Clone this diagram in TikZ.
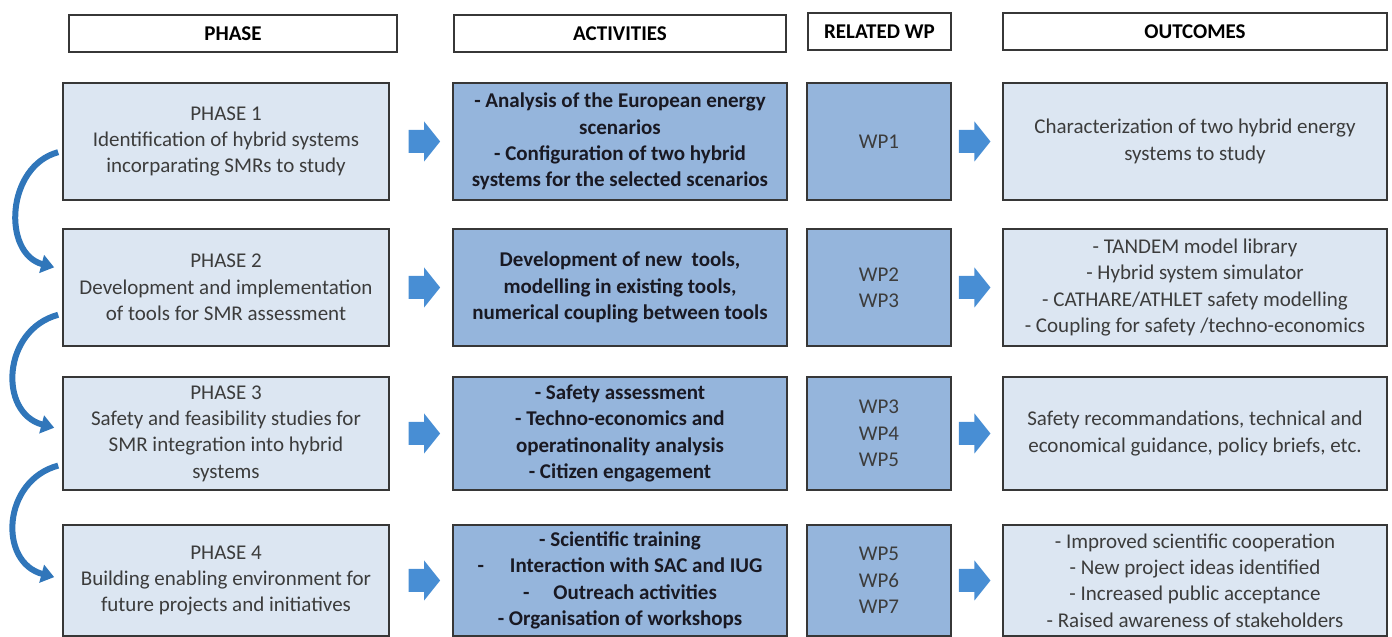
\documentclass[tikz,border=0pt]{standalone}
\usepackage{fontspec}
\setmainfont{Carlito}
\usetikzlibrary{arrows.meta,calc}
\definecolor{LightClr}{RGB}{220,230,242}
\definecolor{WorkClr}{RGB}{149,181,220}
\definecolor{ArrowClr}{RGB}{72,142,212}
\definecolor{BendClr}{RGB}{48,118,186}
\definecolor{EdgeClr}{RGB}{55,55,55}
\definecolor{TextClr}{RGB}{60,60,60}
\definecolor{BoldClr}{RGB}{25,25,35}

\begin{document}
\begin{tikzpicture}[x=0.5pt,y=0.5pt,
  cellbox/.style={draw=EdgeClr,line width=0.8pt,align=center,inner sep=0pt,
    font=\fontsize{10.5}{13.15}\selectfont,text=TextClr},
  hdrbox/.style={cellbox,fill=white,text=black,minimum height=18.5pt,
    font=\bfseries\fontsize{10.5}{13.15}\selectfont},
  phasebox/.style={cellbox,fill=LightClr,minimum width=163pt,minimum height=58.5pt},
  actbox/.style={cellbox,fill=WorkClr,minimum width=167pt,minimum height=58.5pt,
    text=BoldClr,font=\bfseries\fontsize{10.5}{13.15}\selectfont},
  wpbox/.style={cellbox,fill=WorkClr,minimum width=72pt,minimum height=58.5pt},
  outbox/.style={cellbox,fill=LightClr,minimum width=192pt,minimum height=58.5pt},
  bendarrow/.style={draw=BendClr,line width=3pt,-{Triangle[width=9pt,length=6.5pt]}},
  blockarr/.pic={\fill[ArrowClr] (-15.5,-11.5) -- (0,-11.5) -- (0,-20) -- (16,0)
    -- (0,20) -- (0,11.5) -- (-15.5,11.5) -- cycle;}]
\useasboundingbox (0,0) rectangle (1392,637);
\clip (0,0) rectangle (1392,637);

\node[hdrbox,minimum width=164pt] (hphase) at (233,603.5) {PHASE};
\node[hdrbox,minimum width=166pt] (hact) at (620,603.5) {ACTIVITIES};
\node[hdrbox,minimum width=71.5pt] (hwp) at (879.5,605.5) {RELATED WP};
\node[hdrbox,minimum width=192pt] (hout) at (1195,605.5) {OUTCOMES};

\node[phasebox] (p1) at (226,495.5) {PHASE 1\\Identification of hybrid systems\\incorparating SMRs to study};
\node[phasebox] (p2) at (226,349.5) {PHASE 2\\Development and implementation\\of tools for SMR assessment};
\node[phasebox,minimum height=56.5pt] (p3) at (226,203.5) {PHASE 3\\Safety and feasibility studies for\\SMR integration into hybrid\\systems};
\node[phasebox,minimum height=55.5pt] (p4) at (226,56.5) {PHASE 4\\Building enabling environment for\\future projects and initiatives};

\node[actbox] (a1) at (620,495.5) {- Analysis of the European energy\\scenarios\\- Configuration of two hybrid\\systems for the selected scenarios};
\node[actbox] (a2) at (620,349.5) {Development of new\ \ tools,\\modelling in existing tools,\\numerical coupling between tools};
\node[actbox,minimum height=56.5pt] (a3) at (620,203.5) {- Safety assessment\\- Techno-economics and\\operatinonality analysis\\- Citizen engagement};
\node[actbox,minimum height=55.5pt] (a4) at (620,56.5) {- Scientific training\\-\hspace{13pt}Interaction with SAC and IUG\\-\hspace{12pt}Outreach activities\\- Organisation of workshops};

\node[wpbox] (w1) at (879,495.5) {WP1};
\node[wpbox] (w2) at (879,349.5) {WP2\\WP3};
\node[wpbox,minimum height=56.5pt] (w3) at (879,203.5) {WP3\\WP4\\WP5};
\node[wpbox,minimum height=55.5pt] (w4) at (879,56.5) {WP5\\WP6\\WP7};

\node[outbox] (o1) at (1195,495.5) {Characterization of two hybrid energy\\systems to study};
\node[outbox] (o2) at (1195,349.5) {- TANDEM model library\\- Hybrid system simulator\\- CATHARE/ATHLET safety modelling\\- Coupling for safety /techno-economics};
\node[outbox,minimum height=56.5pt] (o3) at (1195,203.5) {Safety recommandations, technical and\\economical guidance, policy briefs, etc.};
\node[outbox,minimum height=55.5pt] (o4) at (1195,56.5) {- Improved scientific cooperation\\- New project ideas identified\\- Increased public acceptance\\- Raised awareness of stakeholders};

\pic at ($(p1.east)!0.55!(a1.west)$) {blockarr};
\pic at ($(p2.east)!0.55!(a2.west)$) {blockarr};
\pic at ($(p3.east)!0.55!(a3.west)$) {blockarr};
\pic at ($(p4.east)!0.55!(a4.west)$) {blockarr};
\pic at ($(w1.east)!0.45!(o1.west)$) {blockarr};
\pic at ($(w2.east)!0.45!(o2.west)$) {blockarr};
\pic at ($(w3.east)!0.45!(o3.west)$) {blockarr};
\pic at ($(w4.east)!0.45!(o4.west)$) {blockarr};

\draw[bendarrow] ($(p1.south west)!0.41!(p1.north west)+(-4,0)$) to[out=195,in=165,distance=27pt] ($(p2.south west)!0.67!(p2.north west)+(-8,0)$);
\draw[bendarrow] ($(p2.south west)!0.27!(p2.north west)+(-4,0)$) to[out=195,in=165,distance=29pt] ($(p3.south west)!0.55!(p3.north west)+(-8,0)$);
\draw[bendarrow] ($(p3.south west)!0.22!(p3.north west)+(-4,0)$) to[out=195,in=165,distance=29pt] ($(p4.south west)!0.53!(p4.north west)+(-8,0)$);
\end{tikzpicture}
\end{document}
